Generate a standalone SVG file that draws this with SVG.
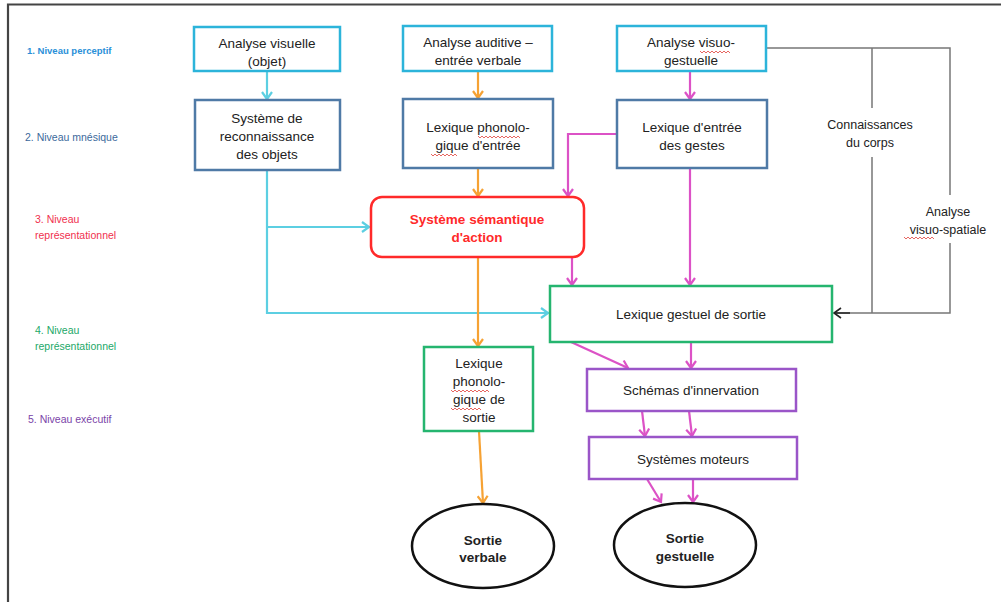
<svg xmlns="http://www.w3.org/2000/svg" width="1001" height="602" viewBox="0 0 1001 602">
<defs>
<style>
.t{font-family:"Liberation Sans",Arial,sans-serif;font-size:13.5px;fill:#222;text-anchor:middle}
.b{font-weight:bold}
.red{fill:#ff2a2a}
.sm{font-size:12.5px}
.lv{font-family:"Liberation Sans",Arial,sans-serif;font-size:10.5px}
.box{fill:#fff;stroke-width:2.5}
.cy{stroke:#2cb4da}
.sb{stroke:#4f7aa6}
.gr{stroke:#25b56f}
.pu{stroke:#9a55c8}
.c{fill:none;stroke-width:2.2}
.sq{fill:none;stroke:#e0403a;stroke-width:0.8}
</style>
<marker id="aC" markerWidth="12" markerHeight="12" refX="9" refY="6" orient="auto" markerUnits="userSpaceOnUse"><path d="M2,1 L9,6 L2,11" fill="none" stroke="#5ccfe2" stroke-width="2.2"/></marker>
<marker id="aO" markerWidth="12" markerHeight="12" refX="9" refY="6" orient="auto" markerUnits="userSpaceOnUse"><path d="M2,1 L9,6 L2,11" fill="none" stroke="#f6a234" stroke-width="2.2"/></marker>
<marker id="aM" markerWidth="12" markerHeight="12" refX="9" refY="6" orient="auto" markerUnits="userSpaceOnUse"><path d="M2,1 L9,6 L2,11" fill="none" stroke="#dc52c6" stroke-width="2.2"/></marker>
<marker id="aK" markerWidth="12" markerHeight="12" refX="9" refY="6" orient="auto" markerUnits="userSpaceOnUse"><path d="M2,1 L9,6 L2,11" fill="none" stroke="#222" stroke-width="1.6"/></marker>
</defs>
<rect width="1001" height="602" fill="#fff"/>
<path d="M8,602 V4.5 H1001" fill="none" stroke="#444" stroke-width="2.2"/>

<g id="levels">
<text class="lv b" x="27" y="54" style="fill:#2a8fd8;font-size:9.5px">1. Niveau perceptif</text>
<text class="lv" x="25" y="141" style="fill:#3c6a9c">2. Niveau mnésique</text>
<text class="lv" x="35" y="223" style="fill:#f0304e">3. Niveau</text>
<text class="lv" x="35" y="239" style="fill:#f0304e">représentationnel</text>
<text class="lv" x="35" y="334" style="fill:#22a868">4. Niveau</text>
<text class="lv" x="35" y="350" style="fill:#22a868">représentationnel</text>
<text class="lv" x="28" y="423" style="fill:#7a44a8">5. Niveau exécutif</text>
</g>

<g id="connectors">
<line class="c" x1="267" y1="71" x2="267" y2="99" stroke="#5ccfe2" marker-end="url(#aC)"/>
<path class="c" d="M267,170 V313 H548" stroke="#5ccfe2" marker-end="url(#aC)"/>
<path class="c" d="M267,227 H369" stroke="#5ccfe2" marker-end="url(#aC)"/>
<line class="c" x1="478" y1="71" x2="478" y2="98" stroke="#f6a234" marker-end="url(#aO)"/>
<line class="c" x1="478" y1="168" x2="478" y2="196" stroke="#f6a234" marker-end="url(#aO)"/>
<line class="c" x1="478" y1="257" x2="478" y2="346" stroke="#f6a234" marker-end="url(#aO)"/>
<line class="c" x1="479" y1="431" x2="483" y2="503" stroke="#f6a234" marker-end="url(#aO)"/>
<line class="c" x1="690" y1="71" x2="690" y2="99" stroke="#dc52c6" marker-end="url(#aM)"/>
<path class="c" d="M617,134 H568 V196" stroke="#dc52c6" marker-end="url(#aM)"/>
<line class="c" x1="690" y1="168" x2="690" y2="285" stroke="#dc52c6" marker-end="url(#aM)"/>
<line class="c" x1="572" y1="257" x2="572" y2="285" stroke="#dc52c6" marker-end="url(#aM)"/>
<line class="c" x1="571" y1="342" x2="628" y2="368" stroke="#dc52c6" marker-end="url(#aM)"/>
<line class="c" x1="691" y1="342" x2="691" y2="368" stroke="#dc52c6" marker-end="url(#aM)"/>
<line class="c" x1="642" y1="411" x2="645" y2="436" stroke="#dc52c6" marker-end="url(#aM)"/>
<line class="c" x1="689" y1="411" x2="692" y2="436" stroke="#dc52c6" marker-end="url(#aM)"/>
<line class="c" x1="647" y1="479" x2="661" y2="502" stroke="#dc52c6" marker-end="url(#aM)"/>
<line class="c" x1="693" y1="479" x2="693" y2="502" stroke="#dc52c6" marker-end="url(#aM)"/>
<path d="M767,48 H950 V195 M950,243 V313 H834" fill="none" stroke="#777" stroke-width="1.5"/>
<path d="M872,48 V108 M872,157 V313" fill="none" stroke="#777" stroke-width="1.5"/>
<line x1="850" y1="313" x2="834" y2="313" stroke="#222" stroke-width="1.5" marker-end="url(#aK)"/>
<text class="t sm" x="870" y="129">Connaissances</text>
<text class="t sm" x="870" y="147">du corps</text>
<text class="t sm" x="948" y="216">Analyse</text>
<text class="t sm" x="948" y="234">visuo-spatiale</text>
<path class="sq" d="M904,237 l2,2 l2,-2 l2,2 l2,-2 l2,2 l2,-2 l2,2 l2,-2 l2,2 l2,-2 l2,2 l2,-2 l2,2 l2,-2 l2,2"/>
</g>

<g id="analyse-visuelle">
<rect class="box cy" x="194" y="27" width="146" height="44"/>
<text class="t" x="267" y="48">Analyse visuelle</text>
<text class="t" x="267" y="66">(objet)</text>
</g>
<g id="systeme-reconnaissance">
<rect class="box sb" x="195" y="100" width="145" height="70"/>
<text class="t" x="267" y="123">Système de</text>
<text class="t" x="267" y="141">reconnaissance</text>
<text class="t" x="267" y="159">des objets</text>
</g>
<g id="analyse-auditive">
<rect class="box cy" x="403" y="26" width="149" height="45"/>
<text class="t" x="478" y="47">Analyse auditive –</text>
<text class="t" x="478" y="65">entrée verbale</text>
</g>
<g id="lexique-phono-entree">
<rect class="box sb" x="403" y="99" width="150" height="69"/>
<text class="t" x="478" y="132">Lexique phonolo-</text>
<text class="t" x="478" y="150">gique d'entrée</text>
<path class="sq" d="M478,136 l2,2 l2,-2 l2,2 l2,-2 l2,2 l2,-2 l2,2 l2,-2 l2,2 l2,-2 l2,2 l2,-2 l2,2 l2,-2 l2,2 l2,-2 l2,2 l2,-2 l2,2 l2,-2 l2,2"/>
<path class="sq" d="M431,154 l2,2 l2,-2 l2,2 l2,-2 l2,2 l2,-2 l2,2 l2,-2 l2,2 l2,-2 l2,2 l2,-2 l2,2"/>
</g>
<g id="analyse-visuo-gestuelle">
<rect class="box cy" x="617" y="26" width="149" height="45"/>
<text class="t" x="691" y="47">Analyse visuo-</text>
<text class="t" x="691" y="65">gestuelle</text>
<path class="sq" d="M700,51 l2,2 l2,-2 l2,2 l2,-2 l2,2 l2,-2 l2,2 l2,-2 l2,2 l2,-2 l2,2 l2,-2 l2,2 l2,-2 l2,2"/>
</g>
<g id="lexique-entree-gestes">
<rect class="box sb" x="617" y="100" width="150" height="68"/>
<text class="t" x="692" y="132">Lexique d'entrée</text>
<text class="t" x="692" y="150">des gestes</text>
</g>
<g id="systeme-semantique">
<rect x="371" y="197" width="213" height="60" rx="11" fill="#fff" stroke="#ff2a2a" stroke-width="2.5"/>
<text class="t b red" x="477" y="224">Système sémantique</text>
<text class="t b red" x="477" y="242">d'action</text>
</g>
<g id="lexique-gestuel-sortie">
<rect class="box gr" x="550" y="286" width="282" height="56"/>
<text class="t" x="691" y="319">Lexique gestuel de sortie</text>
</g>
<g id="lexique-phono-sortie">
<rect class="box gr" x="424" y="347" width="109" height="84"/>
<text class="t" x="479" y="368">Lexique</text>
<text class="t" x="479" y="386">phonolo-</text>
<text class="t" x="479" y="404">gique de</text>
<text class="t" x="479" y="422">sortie</text>
<path class="sq" d="M451,390 l2,2 l2,-2 l2,2 l2,-2 l2,2 l2,-2 l2,2 l2,-2 l2,2 l2,-2 l2,2 l2,-2 l2,2 l2,-2 l2,2 l2,-2 l2,2 l2,-2 l2,2"/>
<path class="sq" d="M451,408 l2,2 l2,-2 l2,2 l2,-2 l2,2 l2,-2 l2,2 l2,-2 l2,2 l2,-2 l2,2 l2,-2 l2,2 l2,-2 l2,2"/>
</g>
<g id="schemas-innervation">
<rect class="box pu" x="587" y="369" width="209" height="42"/>
<text class="t" x="691" y="395">Schémas d'innervation</text>
</g>
<g id="systemes-moteurs">
<rect class="box pu" x="589" y="437" width="208" height="42"/>
<text class="t" x="693" y="464">Systèmes moteurs</text>
</g>
<g id="sortie-verbale">
<ellipse cx="483" cy="546" rx="71" ry="42" fill="#fff" stroke="#111" stroke-width="2.5"/>
<text class="t b" x="483" y="545">Sortie</text>
<text class="t b" x="483" y="562">verbale</text>
</g>
<g id="sortie-gestuelle">
<ellipse cx="685" cy="545" rx="71" ry="42" fill="#fff" stroke="#111" stroke-width="2.5"/>
<text class="t b" x="685" y="543">Sortie</text>
<text class="t b" x="685" y="561">gestuelle</text>
</g>
</svg>
